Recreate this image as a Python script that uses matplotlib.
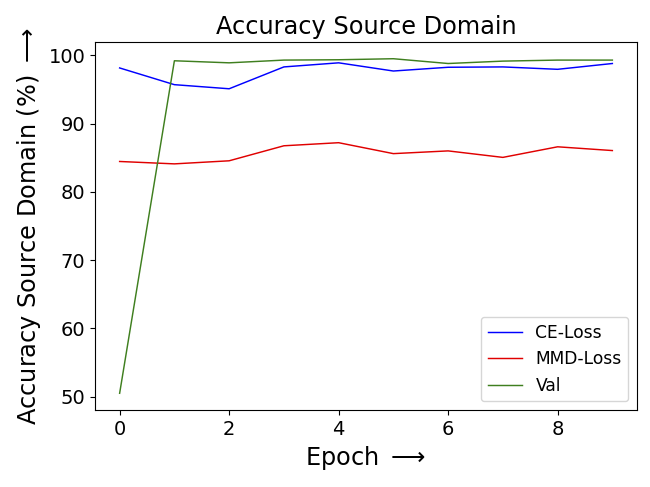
import matplotlib
matplotlib.use("Agg")
import matplotlib.pyplot as plt

epochs = list(range(10))
ce_loss = [98.15, 95.7, 95.1, 98.3, 98.9, 97.7, 98.25, 98.3, 97.95, 98.8]
mmd_loss = [84.45, 84.1, 84.55, 86.75, 87.2, 85.6, 86.0, 85.05, 86.6, 86.05]
val = [50.5, 99.2, 98.9, 99.3, 99.35, 99.5, 98.8, 99.15, 99.3, 99.3]

fig = plt.figure(figsize=(6.5, 4.87), dpi=100)
ax = fig.add_axes([95/650, 1 - 410/487, (637-95)/650, (410-42)/487])
ax.plot(epochs, ce_loss, color="blue", lw=1.05, label="CE-Loss")
ax.plot(epochs, mmd_loss, color="#e00000", lw=1.05, label="MMD-Loss")
ax.plot(epochs, val, color="#3f7f1f", lw=1.05, label="Val")
ax.set_title("Accuracy Source Domain", fontsize=17.3)
ax.set_xlabel("Epoch $\\longrightarrow$", fontsize=17.3)
ax.set_ylabel("Accuracy Source Domain (%) $\\longrightarrow$", fontsize=17.3)
ax.tick_params(labelsize=14)
ax.legend(loc="lower right", fontsize=12.3)
fig.savefig("out.png", dpi=100)
